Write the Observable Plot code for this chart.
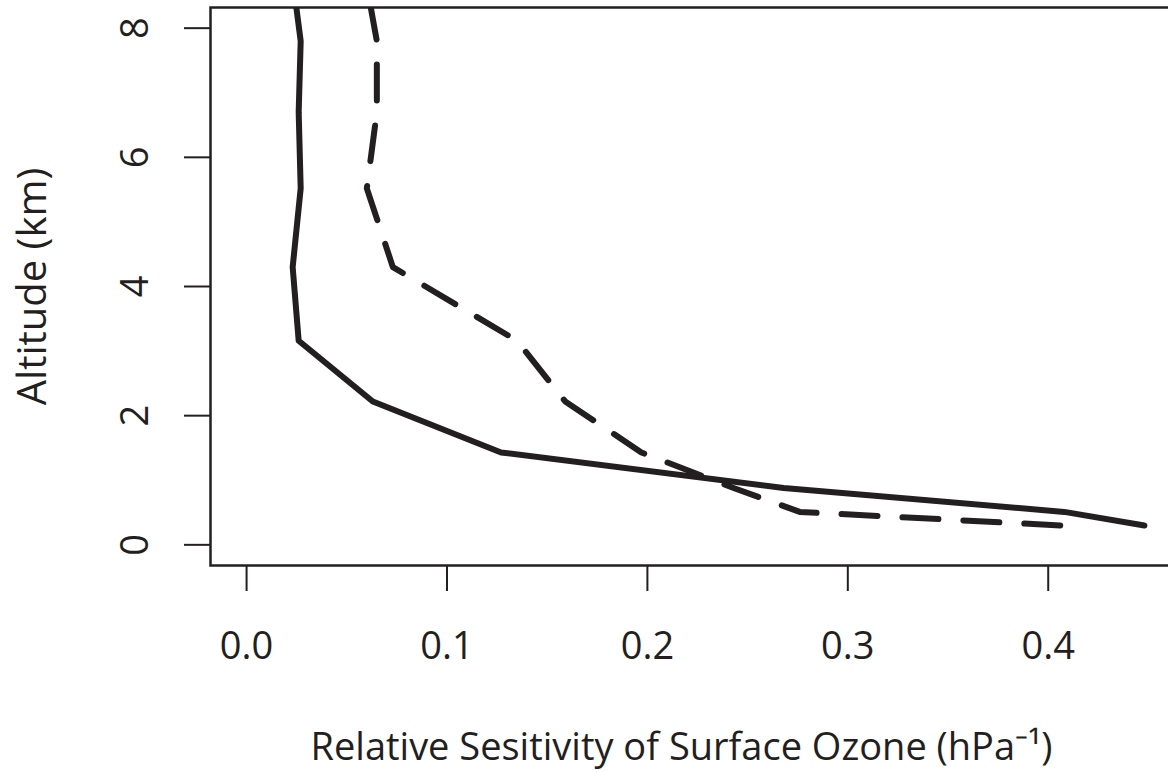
<!DOCTYPE html>
<html>
<head>
<meta charset="utf-8">
<script src="https://cdn.jsdelivr.net/npm/d3@7"></script>
<script src="https://cdn.jsdelivr.net/npm/@observablehq/plot@0.6"></script>
<style>
  html, body { margin: 0; padding: 0; background: #fff; overflow: hidden; }
</style>
</head>
<body>
<div id="chart"></div>
<script>
// Altitude levels (km), ordered from the surface upward
const altitudeKm = [0.30, 0.51, 0.88, 1.43, 2.22, 3.16, 4.30, 5.52, 6.70, 7.80, 9.00];
// Solid line values
const sensitivitySolid = [0.448, 0.408, 0.268, 0.127, 0.063, 0.026, 0.023, 0.027, 0.026, 0.027, 0.022];
// Dashed line values
const sensitivityDashed = [0.406, 0.276, 0.243, 0.197, 0.159, 0.135, 0.073, 0.060, 0.065, 0.065, 0.058];

const xTicks = [0, 0.1, 0.2, 0.3, 0.4];
const yTicks = [0, 2, 4, 6, 8];
const xLabel = "Relative Sesitivity of Surface Ozone (hPa⁻¹)";
const yLabel = "Altitude (km)";

const ink = "#231f20";

const solidRows = altitudeKm.map((a, i) => ({alt: a, s: sensitivitySolid[i]}));
const dashedRows = altitudeKm.map((a, i) => ({alt: a, s: sensitivityDashed[i]}));

const chart = Plot.plot({
  width: 1168,
  height: 772,
  marginLeft: 210,
  marginRight: -16,
  marginTop: 7,
  marginBottom: 207,
  style: {fontFamily: "'Open Sans', sans-serif", background: "white", color: ink},
  x: {domain: [-0.018, 0.468]},
  y: {domain: [-0.32, 8.32]},
  marks: [
    Plot.line(solidRows, {x: "s", y: "alt", stroke: ink, strokeWidth: 6, strokeLinejoin: "round", strokeLinecap: "round", clip: true}),
    Plot.line(dashedRows, {x: "s", y: "alt", stroke: ink, strokeWidth: 6, strokeLinejoin: "round", strokeLinecap: "round", strokeDasharray: "36,25", clip: true}),
    Plot.frame({stroke: ink, strokeWidth: 2.5}),
    Plot.axisX({ticks: xTicks, tickSize: 26, tickPadding: 41, tickFormat: d3.format(".1f"), fontSize: 38, label: null, stroke: ink, strokeWidth: 2, fill: ink}),
    Plot.axisY({ticks: yTicks, tickSize: 26, tickFormat: () => "", label: null, stroke: ink, strokeWidth: 2}),
    Plot.text(yTicks, {y: d => d, text: d => String(d), frameAnchor: "left", dx: -63, rotate: -90, textAnchor: "middle", lineAnchor: "bottom", fontSize: 38, fill: ink}),
    Plot.text([yLabel], {text: d => d, frameAnchor: "left", dx: -165, rotate: -90, textAnchor: "middle", lineAnchor: "bottom", fontSize: 40, fill: ink}),
    Plot.text([xLabel], {text: d => d, frameAnchor: "bottom-left", dx: 100, dy: 194, textAnchor: "start", lineAnchor: "bottom", fontSize: 38, fill: ink})
  ]
});
document.getElementById("chart").appendChild(chart);
</script>
</body>
</html>
